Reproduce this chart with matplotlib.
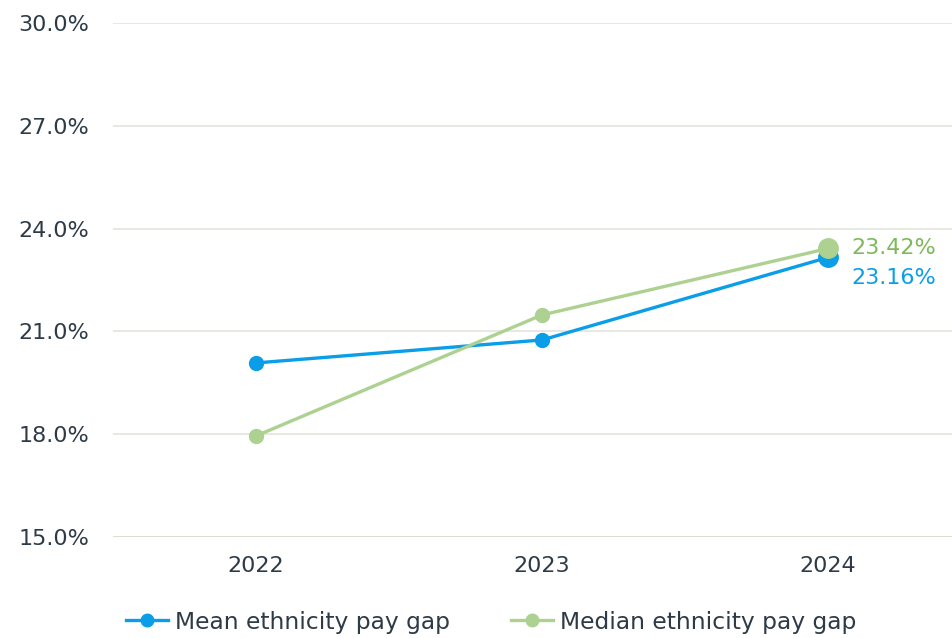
import matplotlib
matplotlib.use('Agg')
from matplotlib import pyplot as plt
from matplotlib.lines import Line2D

matplotlib.rcParams['font.family'] = ['DejaVu Sans']

years = ['2022', '2023', '2024']
mean_gap = [20.08, 20.75, 23.16]
median_gap = [17.95, 21.48, 23.42]
yticks = [15, 18, 21, 24, 27, 30]

blue = '#0a9ee8'
green = '#acd190'
green_text = '#7cb95b'
text_col = '#2e3b47'
fs = 16

fig = plt.figure(figsize=(9.53, 6.38), dpi=100)
ax = fig.add_axes([113 / 953, 1 - 537 / 638, 840 / 953, 514 / 638])

x = list(range(len(years)))
ax.plot(x, mean_gap, color=blue, lw=2.4, marker='o', ms=10, zorder=3)
ax.plot(x, median_gap, color=green, lw=2.4, marker='o', ms=10, zorder=4)
# last points drawn bigger
ax.plot(x[-1], mean_gap[-1], 'o', color=blue, ms=14, zorder=3)
ax.plot(x[-1], median_gap[-1], 'o', color=green, ms=14, zorder=4)

ax.annotate(f'{median_gap[-1]:.2f}%', (x[-1], median_gap[-1]), xytext=(17, 0),
            textcoords='offset points', va='center', ha='left', fontsize=fs, color=green_text)
ax.annotate(f'{mean_gap[-1]:.2f}%', (x[-1], mean_gap[-1]), xytext=(17, -14.5),
            textcoords='offset points', va='center', ha='left', fontsize=fs, color=blue)

ax.set_xlim(-0.5, 2.437)
ax.set_ylim(15, 30)
ax.set_xticks(x)
ax.set_xticklabels(years)
ax.set_yticks(yticks)
ax.set_yticklabels([f'{v:.1f}%' for v in yticks])
ax.tick_params(length=0, labelsize=fs, labelcolor=text_col)
ax.tick_params(axis='y', pad=17)
ax.tick_params(axis='x', pad=14)
for yv in yticks[1:]:
    ax.axhline(yv, color='#e6e6df', lw=1.3, zorder=1)
ax.axhline(15, color='#d8d8cf', lw=2, zorder=1)
for s in ax.spines.values():
    s.set_visible(False)

handles = [Line2D([], [], color=blue, lw=2.4, marker='o', ms=9),
           Line2D([], [], color=green, lw=2.4, marker='o', ms=9)]
fig.legend(handles, ['Mean ethnicity pay gap', 'Median ethnicity pay gap'],
           loc='center', bbox_to_anchor=(491 / 953, 1 - 622 / 638), ncol=2,
           frameon=False, fontsize=16.8, labelcolor=text_col, handlelength=1.8,
           handletextpad=0.3, columnspacing=2.6)

fig.savefig('out.png', dpi=100)
